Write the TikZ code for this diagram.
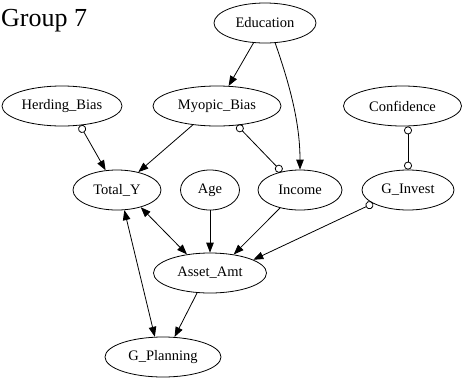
\documentclass[tikz,border=0pt]{standalone}
\usepackage{fontspec}
\setmainfont{Liberation Serif}
\usetikzlibrary{shapes.geometric,arrows.meta}
\begin{document}
\begin{tikzpicture}[x=1pt,y=-1pt,
  nd/.style={ellipse,draw,line width=0.8pt,inner sep=0pt,minimum height=40pt,font=\fontsize{14.5}{17}\selectfont},
  edge/.style={line width=0.8pt},
  arr/.style={edge,-{Triangle[length=10pt,width=7.5pt]}},
  darr/.style={edge,{Triangle[length=10pt,width=7.5pt]}-{Triangle[length=10pt,width=7.5pt]}},
  carr/.style={edge,{Circle[open,length=8pt,width=8pt]}-{Triangle[length=10pt,width=7.5pt]}},
  cc/.style={edge,{Circle[open,length=8pt,width=8pt]}-{Circle[open,length=8pt,width=8pt]}}]
\useasboundingbox (0,0) rectangle (463,378);
\node[anchor=base west,inner sep=0pt,font=\fontsize{26}{30}\selectfont] (title) at (1,26) {Group 7};
\node[nd,minimum width=102pt] (edu) at (265,23) {Education};
\node[nd,minimum width=120pt] (herd) at (62,106) {Herding\_Bias};
\node[nd,minimum width=128pt] (myo) at (217,106) {Myopic\_Bias};
\node[nd,minimum width=118pt] (conf) at (402.5,106) {Confidence};
\node[nd,minimum width=88pt] (tot) at (117,190) {Total\_Y};
\node[nd,minimum width=59pt] (age) at (210,190) {Age};
\node[nd,minimum width=84pt] (inc) at (300,190) {Income};
\node[nd,minimum width=92pt] (ginv) at (408,190) {G\_Invest};
\node[nd,minimum width=113pt] (asset) at (210,273) {Asset\_Amt};
\node[nd,minimum width=116pt] (gplan) at (163,357) {G\_Planning};
\draw[arr] (edu) -- (myo);
\draw[arr] (edu.-63) .. controls (288,80) and (300,120) .. (inc.north);
\draw[carr] (herd.-47) -- (tot.120);
\draw[arr] (myo.-142) -- (tot.40);
\draw[cc] (myo.-44) -- (inc.135);
\draw[cc] (ginv.north |- conf.south) -- (ginv.north);
\draw[darr] (tot.-36.5) -- (asset.141.5);
\draw[darr] (tot.-70.5) -- (gplan.112);
\draw[arr] (age) -- (asset);
\draw[arr] (inc.-138.7) -- (asset.38.5);
\draw[carr] (ginv.-159.6) -- (asset.17);
\draw[arr] (asset.-123.7) -- (gplan.60.7);
\end{tikzpicture}
\end{document}
